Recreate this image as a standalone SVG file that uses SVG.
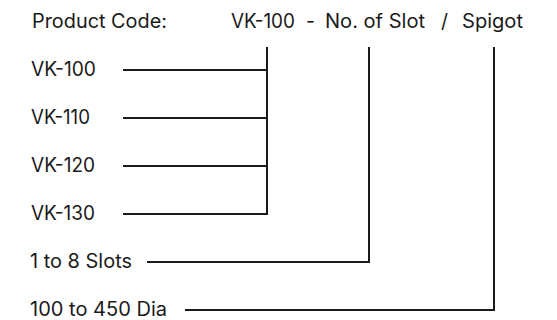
<svg xmlns="http://www.w3.org/2000/svg" width="557" height="320" viewBox="0 0 557 320">
<style>
text{font-family:Inter,"Liberation Sans",sans-serif;font-size:19.5px;font-weight:400;fill:#1a1a1a}
.c{fill:none;stroke:#1a1a1a;stroke-width:2;stroke-linejoin:miter;stroke-linecap:butt}
</style>
<rect width="557" height="320" fill="#fff"/>
<g id="header">
<text x="32" y="28" textLength="135" lengthAdjust="spacingAndGlyphs">Product Code:</text>
<text x="231" y="28" textLength="64" lengthAdjust="spacingAndGlyphs">VK-100</text>
<text x="306" y="28">-</text>
<text x="325" y="28" textLength="100" lengthAdjust="spacingAndGlyphs">No. of Slot</text>
<text x="441" y="28">/</text>
<text x="462" y="28" textLength="61" lengthAdjust="spacingAndGlyphs">Spigot</text>
</g>
<g id="vk100"><text x="31" y="76" textLength="65" lengthAdjust="spacingAndGlyphs">VK-100</text></g>
<g id="vk110"><text x="31" y="124" textLength="59" lengthAdjust="spacingAndGlyphs">VK-110</text></g>
<g id="vk120"><text x="31" y="172" textLength="64" lengthAdjust="spacingAndGlyphs">VK-120</text></g>
<g id="vk130"><text x="31" y="220" textLength="64" lengthAdjust="spacingAndGlyphs">VK-130</text></g>
<g id="slots"><text x="30" y="268" textLength="102" lengthAdjust="spacingAndGlyphs">1 to 8 Slots</text></g>
<g id="dia"><text x="30" y="316" textLength="137" lengthAdjust="spacingAndGlyphs">100 to 450 Dia</text></g>
<g id="connectors">
<path class="c" d="M267 47V214H123"/>
<path class="c" d="M123 70H267"/>
<path class="c" d="M123 118H267"/>
<path class="c" d="M123 166H267"/>
<path class="c" d="M147 262H369V47"/>
<path class="c" d="M185 310H494V47"/>
</g>
</svg>
